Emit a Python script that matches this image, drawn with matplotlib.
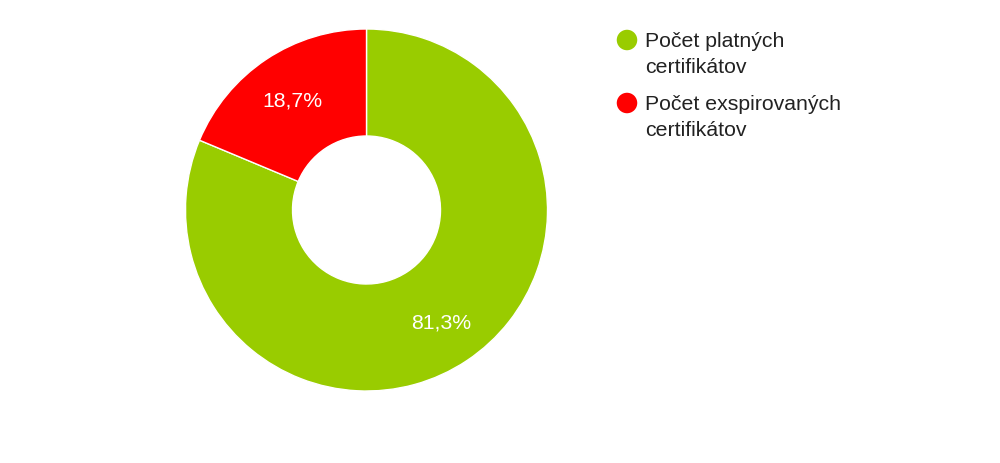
import matplotlib
matplotlib.use("Agg")
import matplotlib.pyplot as plt
from matplotlib.patches import Ellipse

labels = ["Počet platných\ncertifikátov", "Počet exspirovaných\ncertifikátov"]
values = [81.3, 18.7]
colors = ["#99cc00", "#ff0000"]

plt.rcParams['font.family'] = ['Liberation Sans', 'DejaVu Sans']

W, H = 1000, 463
fig = plt.figure(figsize=(W / 100, H / 100), dpi=100)

cx, cy, R = 366.5, 210, 181
ax = fig.add_axes([(cx - R) / W, (H - cy - R) / H, 2 * R / W, 2 * R / H])
wedges, texts, autotexts = ax.pie(
    values, colors=colors, startangle=90, counterclock=False, radius=1,
    wedgeprops=dict(width=1 - 74 / 181, edgecolor="white", linewidth=1),
    autopct=lambda p: f"{p:.1f}".replace(".", ",") + "%", pctdistance=0.74,
    textprops=dict(color="white", fontsize=15.3, va="center_baseline"))
ax.set_xlim(-1, 1)
ax.set_ylim(-1, 1)
ax.set_aspect("equal")
ax.axis("off")

# legend
lx, cy0, base0, step, lstep = 627, 40, 47, 63, 26
for i, (lab, col) in enumerate(zip(labels, colors)):
    yc = cy0 + i * step
    fig.add_artist(Ellipse((lx / W, 1 - yc / H), width=20.5 / W, height=20.5 / H,
                           transform=fig.transFigure, facecolor=col, edgecolor="none"))
    for j, line in enumerate(lab.split("\n")):
        yb = base0 + i * step + j * lstep
        fig.text(645 / W, 1 - yb / H, line, fontsize=15.3, color="#222222",
                 va="baseline", ha="left")

fig.savefig("out.png", dpi=100)
